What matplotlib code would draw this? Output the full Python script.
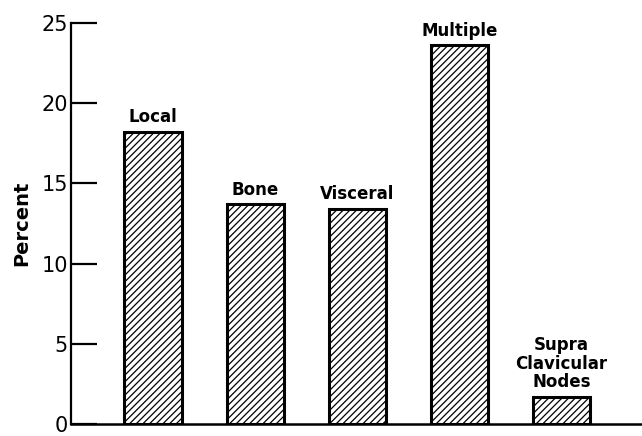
import matplotlib
matplotlib.use('Agg')
from matplotlib import pyplot as plt

# data
categories = ['Local', 'Bone', 'Visceral', 'Multiple', 'Supra\nClavicular\nNodes']
percent = [18.2, 13.7, 13.4, 23.6, 1.7]
yticks = [0, 5, 10, 15, 20, 25]

plt.rcParams['font.family'] = ['DejaVu Sans']
plt.rcParams['hatch.linewidth'] = 0.9

fig = plt.figure(figsize=(6.42, 4.36), dpi=100)
ax = fig.add_axes([0.110, 0.027, 0.890, 0.921])

x = list(range(len(categories)))
bars = ax.bar(x, percent, width=0.56, color='white', edgecolor='black',
              linewidth=2.2, hatch='/////', zorder=2)

# category labels sit just above each bar
for xi, val, name in zip(x, percent, categories):
    ax.text(xi, val + 0.35, name, ha='center', va='bottom', fontsize=12,
            fontweight='bold', linespacing=1.05)

ax.set_xlim(-0.807, 4.79)
ax.set_ylim(0, 25)
ax.set_yticks(yticks)
ax.set_yticklabels([str(t) for t in yticks], fontsize=15)
ax.set_xticks([])
ax.tick_params(axis='y', direction='in', length=19, width=1.6, pad=2)

ax.spines['top'].set_visible(False)
ax.spines['right'].set_visible(False)
ax.spines['left'].set_linewidth(1.6)
ax.spines['bottom'].set_linewidth(1.8)

ax.set_ylabel('Percent', fontsize=14, fontweight='bold', labelpad=7)

fig.savefig('out.png', dpi=100)
